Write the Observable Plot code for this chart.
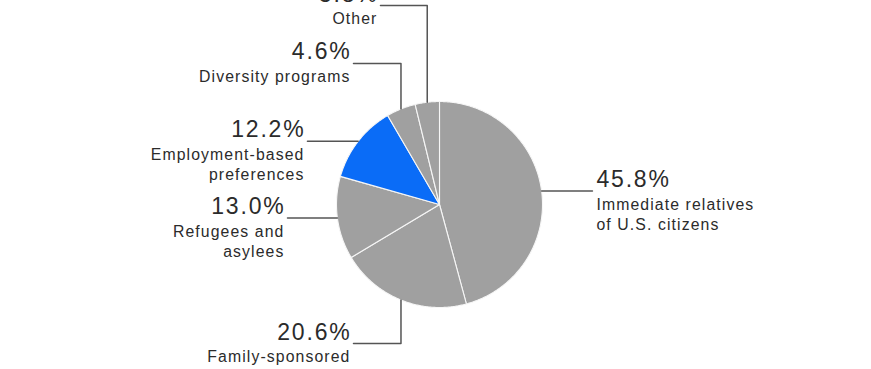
<!DOCTYPE html>
<html>
<head>
<meta charset="utf-8">
<script src="https://cdn.jsdelivr.net/npm/d3@7"></script>
<script src="https://cdn.jsdelivr.net/npm/@observablehq/plot@0.6"></script>
<style>
  html, body { margin: 0; padding: 0; background: #fff; overflow: hidden; }
  #chart svg { display: block; }
</style>
</head>
<body>
<div id="chart"></div>
<script>
// ---- data ----
const categories = [
  "Immediate relatives of U.S. citizens",
  "Family-sponsored preferences",
  "Refugees and asylees",
  "Employment-based preferences",
  "Diversity programs",
  "Other"
];
const shares = [45.8, 20.6, 13.0, 12.2, 4.6, 3.8];
const shareLabels = ["45.8%", "20.6%", "13.0%", "12.2%", "4.6%", "3.8%"];
const descriptions = [
  "Immediate relatives\nof U.S. citizens",
  "Family-sponsored\npreferences",
  "Refugees and\nasylees",
  "Employment-based\npreferences",
  "Diversity programs",
  "Other"
];
const highlighted = "Employment-based preferences";

// ---- layout (leader-line end points, in pie-radius units) ----
const leaderEnds = [
  {x: 1.485, y: null},
  {x: -0.835, y: -1.35},
  {x: -1.476, y: null},
  {x: -1.282, y: null},
  {x: -0.835, y: 1.369},
  {x: -0.573, y: 1.932}
];

const GRAY = "#a0a0a0", BLUE = "#0a6cf7", INK = "#2b2b2b", LEAD = "#555555";
const PCT_SIZE = 23, DESC_SIZE = 15.8;

const arcs = d3.pie().sort(null).startAngle(0).endAngle(2 * Math.PI)(shares);

// slice polygons
const slicePts = [];
arcs.forEach((a, i) => {
  const color = categories[i] === highlighted ? BLUE : GRAY;
  slicePts.push({name: categories[i], x: 0, y: 0, color});
  const n = Math.max(2, Math.ceil((a.endAngle - a.startAngle) / 0.01));
  for (let k = 0; k <= n; k++) {
    const t = a.startAngle + (a.endAngle - a.startAngle) * k / n;
    slicePts.push({name: categories[i], x: Math.sin(t), y: Math.cos(t), color});
  }
  slicePts.push({name: categories[i], x: 0, y: 0, color});
});

// leader lines and labels
const leaderPts = [];
const labels = [];
arcs.forEach((a, i) => {
  const m = (a.startAngle + a.endAngle) / 2;
  const sx = Math.sin(m), sy = Math.cos(m);
  const e = leaderEnds[i];
  leaderPts.push({name: categories[i], x: sx, y: sy});
  let ly;
  if (e.y !== null) {
    leaderPts.push({name: categories[i], x: sx, y: e.y});
    ly = e.y;
  } else {
    ly = sy;
  }
  leaderPts.push({name: categories[i], x: e.x, y: ly});
  labels.push({x: e.x, y: ly, right: e.x > 0, pct: shareLabels[i], desc: descriptions[i]});
});

const FONT = "'Liberation Sans', Arial, sans-serif";
const R = labels.filter(d => d.right), L = labels.filter(d => !d.right);

const plot = Plot.plot({
  width: 871,
  height: 369,
  margin: 0,
  style: {background: "#fff", fontFamily: FONT, overflow: "visible"},
  x: {domain: [-1, 1], range: [336, 542], axis: null},
  y: {domain: [-1, 1], range: [307, 101], axis: null},
  color: {type: "identity"},
  marks: [
    Plot.line(slicePts, {x: "x", y: "y", z: "name", fill: "color", stroke: "#f6f6f6", strokeWidth: 1.1, strokeLinejoin: "round", curve: "linear"}),
    Plot.line(leaderPts, {x: "x", y: "y", z: "name", stroke: LEAD, strokeWidth: 1.5, curve: "linear"}),
    Plot.text(R, {x: "x", y: "y", text: "pct", textAnchor: "start", dx: 4, dy: -4, lineAnchor: "bottom", fontSize: PCT_SIZE, fill: INK}),
    Plot.text(L, {x: "x", y: "y", text: "pct", textAnchor: "end", dx: -2, dy: -4, lineAnchor: "bottom", fontSize: PCT_SIZE, fill: INK}),
    Plot.text(R, {x: "x", y: "y", text: "desc", textAnchor: "start", dx: 4, dy: 4, lineAnchor: "top", lineHeight: 1.3, fontSize: DESC_SIZE, fill: INK}),
    Plot.text(L, {x: "x", y: "y", text: "desc", textAnchor: "end", dx: -3, dy: 4, lineAnchor: "top", lineHeight: 1.3, fontSize: DESC_SIZE, fill: INK})
  ]
});
d3.select(plot).selectAll(`g[font-size="${PCT_SIZE}"]`).attr("letter-spacing", "1.8px");
d3.select(plot).selectAll(`g[font-size="${DESC_SIZE}"]`).attr("letter-spacing", "1.1px");
document.getElementById("chart").appendChild(plot);
</script>
</body>
</html>
